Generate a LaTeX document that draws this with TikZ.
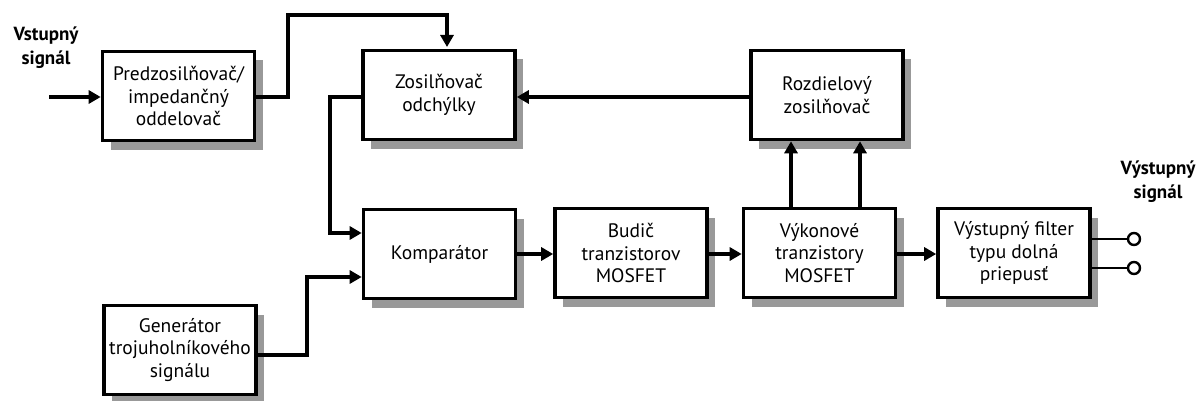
\documentclass[tikz,border=0pt]{standalone}
\usepackage{fontspec}
\setmainfont{PT Sans}
\usetikzlibrary{arrows.meta,shadows}
\begin{document}
\begin{tikzpicture}[x=1pt,y=-1pt,
  blok/.style={draw,line width=3.6pt,fill=white,minimum width=152pt,minimum height=89pt,
    align=center,font=\fontsize{19.5}{22.5}\selectfont,inner sep=2pt,
    drop shadow={shadow xshift=8pt,shadow yshift=-9pt,fill=black!40,opacity=1}},
  vodic/.style={line width=3.4pt},
  sipka/.style={vodic,-{Triangle[length=12pt,width=13pt]}},
  popis/.style={align=center,font=\bfseries\fontsize{19}{24}\selectfont},
  svorka/.style={circle,draw,line width=2.4pt,fill=white,minimum size=12pt,inner sep=0pt}]
\useasboundingbox (0,0) rectangle (1198,401);

% bloky
\node[blok] (pre) at (178.5,96) {Predzosilňovač/\\impedančný\\oddelovač};
\node[blok] (zos) at (439,95) {Zosilňovač\\odchýlky};
\node[blok] (roz) at (827,95) {Rozdielový\\zosilňovač};
\node[blok] (kom) at (439.5,254) {Komparátor};
\node[blok] (bud) at (631,253) {Budič\\tranzistorov\\MOSFET};
\node[blok] (vyk) at (819.5,253) {Výkonové\\tranzistory\\MOSFET};
\node[blok] (fil) at (1014,253) {Výstupný filter\\typu dolná\\priepusť};
\node[blok] (gen) at (180,350) {Generátor\\trojuholníkového\\signálu};

% popisy vstupu a výstupu
\node[popis] (vst) at (46,48) {Vstupný\\signál};
\node[popis] (vys) at (1158,182) {Výstupný\\signál};

% vstup
\coordinate (vin) at (49,97);
\draw[sipka] (vin) -- (vin -| pre.west);

% predzosilňovač -> zosilňovač odchýlky
\draw[sipka] (pre.east |- 0,97) -- (288,97) -- (288,15) -- (447,15) -- (447,47);

% rozdielový -> zosilňovač odchýlky
\draw[sipka] (roz.west |- 0,97) -- (zos.east |- 0,97);

% zosilňovač odchýlky -> komparátor
\draw[sipka] (zos.west |- 0,97) -- (330,97) -- (330,233) -- (kom.west |- 0,233);

% generátor -> komparátor
\draw[sipka] (gen.east |- 0,355) -- (307,355) -- (307,277) -- (kom.west |- 0,277);

% hlavná cesta
\draw[sipka] (kom.east |- 0,254) -- (bud.west |- 0,254);
\draw[sipka] (bud.east |- 0,254) -- (vyk.west |- 0,254);
\draw[sipka] (vyk.east |- 0,254) -- (fil.west |- 0,254);

% spätná väzba z výkonových tranzistorov
\draw[sipka] (vyk.north -| 791,0) -- (roz.south -| 791,0);
\draw[sipka] (vyk.north -| 860,0) -- (roz.south -| 860,0);

% výstupné svorky
\node[svorka] (s1) at (1134,239) {};
\node[svorka] (s2) at (1134,268) {};
\draw[line width=2.6pt] (fil.east |- s1) -- (s1.west);
\draw[line width=2.6pt] (fil.east |- s2) -- (s2.west);
\end{tikzpicture}
\end{document}
